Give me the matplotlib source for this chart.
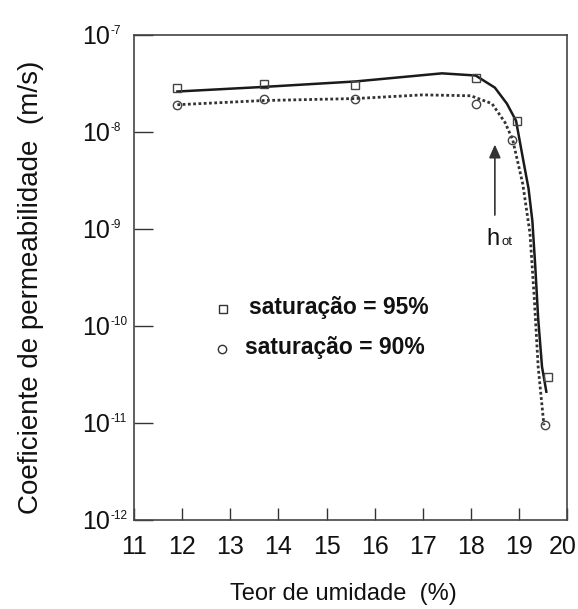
import matplotlib
matplotlib.use("Agg")
import matplotlib.pyplot as plt
import matplotlib.transforms as mtransforms

plt.rcParams['font.family'] = ['Liberation Sans', 'DejaVu Sans']

# pontos medidos
umid_95 = [11.9, 13.7, 15.6, 18.1, 18.95, 19.6]
perm_95 = [2.8e-8, 3.1e-8, 3.0e-8, 3.6e-8, 1.3e-8, 3.0e-11]
umid_90 = [11.9, 13.7, 15.6, 18.1, 18.85, 19.55]
perm_90 = [1.9e-8, 2.2e-8, 2.2e-8, 1.95e-8, 8.3e-9, 9.5e-12]

# curvas ajustadas
curva_x_95 = [11.9, 13.7, 15.6, 17.4, 18.1, 18.5, 18.75, 18.94, 19.09, 19.2, 19.28, 19.34, 19.40, 19.48, 19.57]
curva_y_95 = [2.6e-8, 2.9e-8, 3.3e-8, 4.0e-8, 3.8e-8, 2.85e-8, 1.95e-8, 1.3e-8, 5.1e-9, 2.6e-9, 1.2e-9, 4.1e-10, 1.2e-10, 3.8e-11, 2.1e-11]
curva_x_90 = [11.9, 13.7, 15.6, 17.0, 18.0, 18.44, 18.71, 18.87, 19.08, 19.23, 19.32, 19.40, 19.52]
curva_y_90 = [1.9e-8, 2.1e-8, 2.2e-8, 2.4e-8, 2.35e-8, 1.95e-8, 1.25e-8, 8.3e-9, 2.9e-9, 9e-10, 1.9e-10, 3.8e-11, 9.5e-12]

xticks = list(range(11, 21))
yticks = [1e-12, 1e-11, 1e-10, 1e-9, 1e-8, 1e-7]
expoentes = ['-12', '-11', '-10', '-9', '-8', '-7']

fig = plt.figure(figsize=(5.78, 6.09), dpi=100)
ax = fig.add_axes([0.232, 0.146, 0.749, 0.797])

ax.plot(curva_x_95, curva_y_95, color='#1a1a1a', lw=1.8)
ax.plot(curva_x_90, curva_y_90, color='#333333', lw=2.0, ls=(0, (1, 0.9)))
ax.plot(umid_95, perm_95, ls='none', marker='s', ms=5.5, mfc='none', mec='#444444', mew=1.0)
ax.plot(umid_90, perm_90, ls='none', marker='o', ms=6, mfc='none', mec='#444444', mew=1.0)

ax.set_yscale('log')
ax.set_xlim(11, 20)
ax.set_ylim(1e-12, 1e-7)
ax.set_xticks(xticks)
ax.set_yticks(yticks)
ax.set_yticklabels([])
ax.minorticks_off()
ax.tick_params(axis='x', direction='in', length=9, width=1, colors='#333333',
               labelcolor='#111111', labelsize=18, pad=11)
ax.tick_params(axis='y', direction='in', length=14, width=1, colors='#333333')
for s in ax.spines.values():
    s.set_color('#444444')
    s.set_linewidth(1.2)

# o ultimo rotulo (20) fica no limite da figura, puxa um pouco para a esquerda
ultimo = ax.get_xticklabels()[-1]
ultimo.set_transform(ultimo.get_transform() + mtransforms.ScaledTranslation(-4 / 100, 0, fig.dpi_scale_trans))

# rótulos do eixo y: 10 com expoente pequeno
for v, e in zip(yticks, expoentes):
    ax.annotate('10', xy=(0, v), xycoords=('axes fraction', 'data'), xytext=(-17.3, -1.4),
                textcoords='offset points', ha='right', va='center', fontsize=18, color='#111111')
    ax.annotate(e, xy=(0, v), xycoords=('axes fraction', 'data'), xytext=(-17.0, 7),
                textcoords='offset points', ha='left', va='top', fontsize=8.5, color='#111111')

ax.set_xlabel('Teor de umidade  (%)', fontsize=17, color='#111111', va='center')
ax.xaxis.set_label_coords(0.483, -0.153)
ax.set_ylabel('Coeficiente de permeabilidade  (m/s)', fontsize=20, color='#111111', va='center')
ax.yaxis.set_label_coords(-0.238, 0.48)

# seta h_ot
ax.annotate('', xy=(18.5, 7.9e-9), xytext=(18.5, 1.3e-9),
            arrowprops=dict(arrowstyle='-|>,head_length=0.8,head_width=0.35', color='#333333', lw=1.2))
ax.text(18.33, 6.8e-10, 'h', fontsize=17, va='baseline', ha='left', color='#111111')
ax.text(18.64, 6.8e-10, 'ot', fontsize=9.5, va='baseline', ha='left', color='#111111')

# legenda
ax.plot([12.85], [1.5e-10], ls='none', marker='s', ms=5.5, mfc='none', mec='#333333', mew=1.0)
ax.text(13.39, 1.54e-10, 'saturação = 95%', fontsize=16.5, fontweight='bold', va='center', color='#111111')
ax.plot([12.83], [5.8e-11], ls='none', marker='o', ms=6, mfc='none', mec='#333333', mew=1.0)
ax.text(13.31, 6.0e-11, 'saturação = 90%', fontsize=16.5, fontweight='bold', va='center', color='#111111')

fig.savefig('out.png', dpi=100)
